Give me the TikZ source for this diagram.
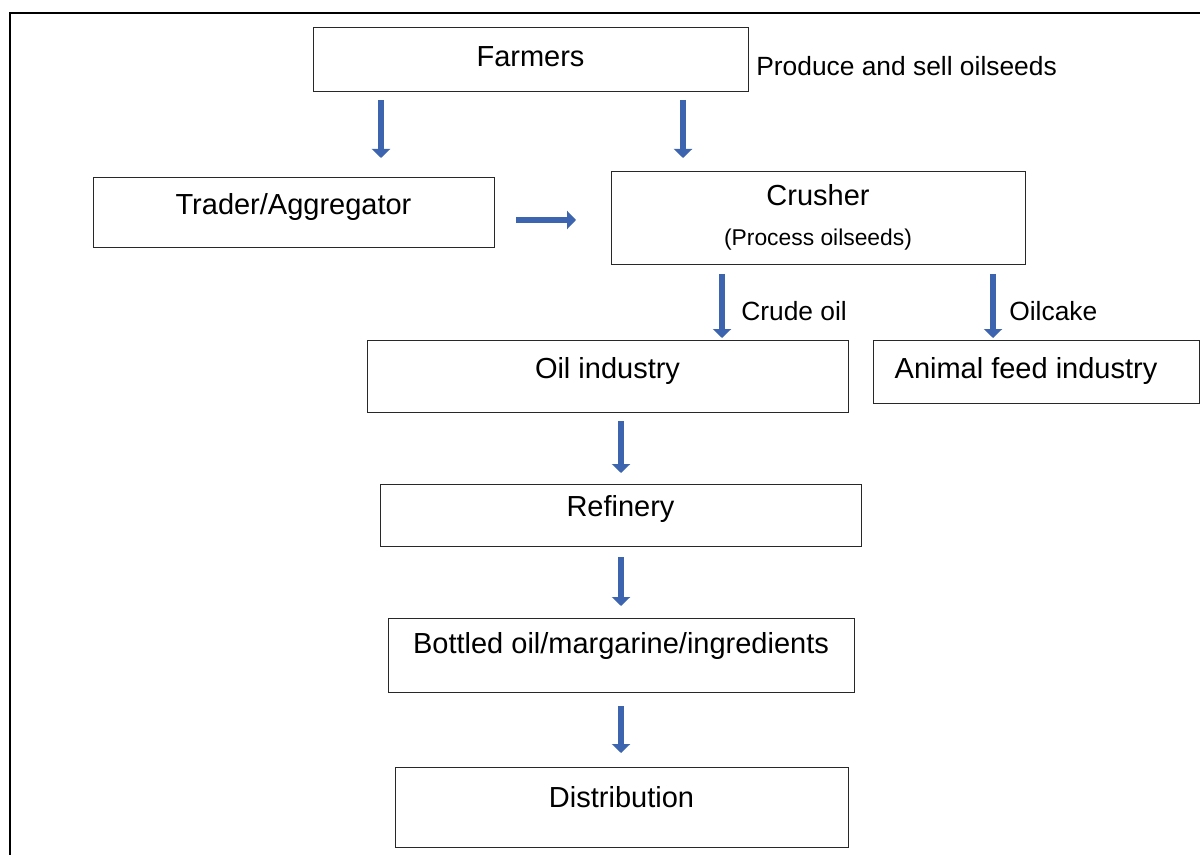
\documentclass[tikz,border=0pt]{standalone}
\usepackage{fontspec}
\setmainfont{Liberation Sans}
\usetikzlibrary{arrows.meta,calc}
\definecolor{FlowClr}{RGB}{60,100,175}
\definecolor{FrameClr}{rgb}{0,0,0}
\definecolor{BoxClr}{RGB}{40,40,40}

\begin{document}
\begin{tikzpicture}[
  box/.style={draw=BoxClr, line width=0.5pt, inner sep=0pt, outer sep=0pt, anchor=north west,
    font=\fontsize{16.5}{20}\selectfont},
  note/.style={inner sep=0pt, anchor=base west, font=\fontsize{15}{18}\selectfont},
  flow/.style={draw=FlowClr, line width=0.12cm, -{Triangle[width=0.36cm,length=0.18cm]}}]
\useasboundingbox (0,0) rectangle (24,-17.1);

% Cadre.
\draw[FrameClr, line width=1.5pt] (0.2,-17.1) |- (24,-0.26);

% Les cases.
\node[box, minimum width=8.70cm, text height=0.80cm, text depth=0.48cm] (farmers) at (6.26,-0.54) {Farmers};
\node[box, minimum width=8.02cm, text height=0.76cm, text depth=0.64cm] (trader) at (1.86,-3.54) {Trader/Aggregator};
\node[box, minimum width=8.28cm, minimum height=1.86cm, align=center,
  font=\fontsize{16.5}{22.7}\selectfont] (crusher) at (12.22,-3.42)
  {Crusher\\{\fontsize{13}{15}\selectfont (Process oilseeds)}};
\node[box, minimum width=9.62cm, text height=0.76cm, text depth=0.68cm] (oil) at (7.34,-6.80) {Oil industry};
\node[box, minimum width=6.52cm, text height=0.76cm, text depth=0.50cm] (feed) at (17.46,-6.80) {Animal feed industry\kern0.4cm};
\node[box, minimum width=9.62cm, text height=0.64cm, text depth=0.60cm] (refinery) at (7.60,-9.68) {Refinery};
\node[box, minimum width=9.32cm, text height=0.70cm, text depth=0.78cm] (bottled) at (7.76,-12.36) {Bottled oil/margarine/ingredients};
\node[box, minimum width=9.06cm, text height=0.80cm, text depth=0.80cm] (distrib) at (7.90,-15.34) {Distribution};

% Les textes.
\node[note] (sell) at (15.12,-1.52) {Produce and sell oilseeds};
\node[note] (crude) at (14.82,-6.42) {Crude oil};
\node[note] (cake) at (20.18,-6.42) {Oilcake};

% Les flèches.
\coordinate (f1) at ([yshift=-0.18cm]farmers.south -| 7.62,0);
\coordinate (f2) at ([yshift=-0.18cm]farmers.south -| 13.66,0);
\coordinate (t1) at ([xshift=0.44cm,yshift=-0.86cm]trader.north east);
\coordinate (c1) at ([yshift=-0.20cm]crusher.south -| 14.44,0);
\coordinate (c2) at ([yshift=-0.20cm]crusher.south -| 19.86,0);
\coordinate (o1) at ([yshift=-0.18cm]oil.south -| 12.42,0);
\coordinate (r1) at ([yshift=-0.22cm]refinery.south -| 12.42,0);
\coordinate (b1) at ([yshift=-0.28cm]bottled.south -| 12.42,0);

\draw[flow] (f1) -- ([yshift=0.38cm]trader.north -| f1);
\draw[flow] (f2) -- ([yshift=0.26cm]crusher.north -| f2);
\draw[flow] (t1) -- ([xshift=-0.70cm]crusher.west |- t1);
\draw[flow] (c1) -- ([yshift=0.04cm]oil.north -| c1);
\draw[flow] (c2) -- ([yshift=0.04cm]feed.north -| c2);
\draw[flow] (o1) -- ([yshift=0.22cm]refinery.north -| o1);
\draw[flow] (r1) -- ([yshift=0.24cm]bottled.north -| r1);
\draw[flow] (b1) -- ([yshift=0.28cm]distrib.north -| b1);

\end{tikzpicture}
\end{document}
